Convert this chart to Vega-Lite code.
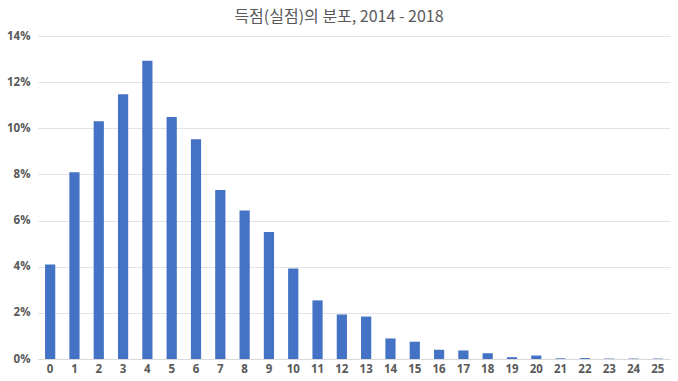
{
  "$schema": "https://vega.github.io/schema/vega-lite/v6.json",
  "width": 632,
  "height": 323,
  "autosize": "none",
  "padding": {"left": 38, "top": 36, "right": 8, "bottom": 22},
  "background": "white",
  "title": {
    "text": "득점(실점)의 분포, 2014 - 2018",
    "anchor": "middle",
    "frame": "group",
    "dx": -15,
    "offset": 5,
    "fontSize": 16,
    "font": "Noto Sans CJK KR",
    "fontWeight": "normal",
    "color": "#595959"
  },
  "data": {
    "values": [
      {"goals": "0", "share": 0.0410},
      {"goals": "1", "share": 0.0809},
      {"goals": "2", "share": 0.1030},
      {"goals": "3", "share": 0.1147},
      {"goals": "4", "share": 0.1293},
      {"goals": "5", "share": 0.1049},
      {"goals": "6", "share": 0.0953},
      {"goals": "7", "share": 0.0732},
      {"goals": "8", "share": 0.0644},
      {"goals": "9", "share": 0.0550},
      {"goals": "10", "share": 0.0392},
      {"goals": "11", "share": 0.0254},
      {"goals": "12", "share": 0.0193},
      {"goals": "13", "share": 0.0184},
      {"goals": "14", "share": 0.0089},
      {"goals": "15", "share": 0.0075},
      {"goals": "16", "share": 0.0040},
      {"goals": "17", "share": 0.0037},
      {"goals": "18", "share": 0.0025},
      {"goals": "19", "share": 0.0008},
      {"goals": "20", "share": 0.0015},
      {"goals": "21", "share": 0.0003},
      {"goals": "22", "share": 0.0004},
      {"goals": "23", "share": 0.0002},
      {"goals": "24", "share": 0.0002},
      {"goals": "25", "share": 0.0002}
    ]
  },
  "mark": {"type": "bar", "color": "#4472C4"},
  "encoding": {
    "x": {
      "field": "goals",
      "type": "ordinal",
      "sort": null,
      "title": null,
      "scale": {"paddingInner": 0.58, "paddingOuter": 0.29},
      "axis": {
        "labelAngle": 0,
        "labelFont": "Open Sans",
        "labelFontSize": 11.5,
        "labelFontWeight": "bold",
        "labelColor": "#595959",
        "ticks": false,
        "labelPadding": 4,
        "domainColor": "#d9d9d9",
        "grid": false
      }
    },
    "y": {
      "field": "share",
      "type": "quantitative",
      "title": null,
      "scale": {"domain": [0, 0.14]},
      "axis": {
        "format": ".0%",
        "values": [0, 0.02, 0.04, 0.06, 0.08, 0.1, 0.12, 0.14],
        "labelFont": "Open Sans",
        "labelFontSize": 11.5,
        "labelFontWeight": "bold",
        "labelColor": "#595959",
        "ticks": false,
        "domain": false,
        "labelPadding": 8,
        "gridColor": "#e3e3e3"
      }
    }
  },
  "config": {"view": {"stroke": null}}
}
